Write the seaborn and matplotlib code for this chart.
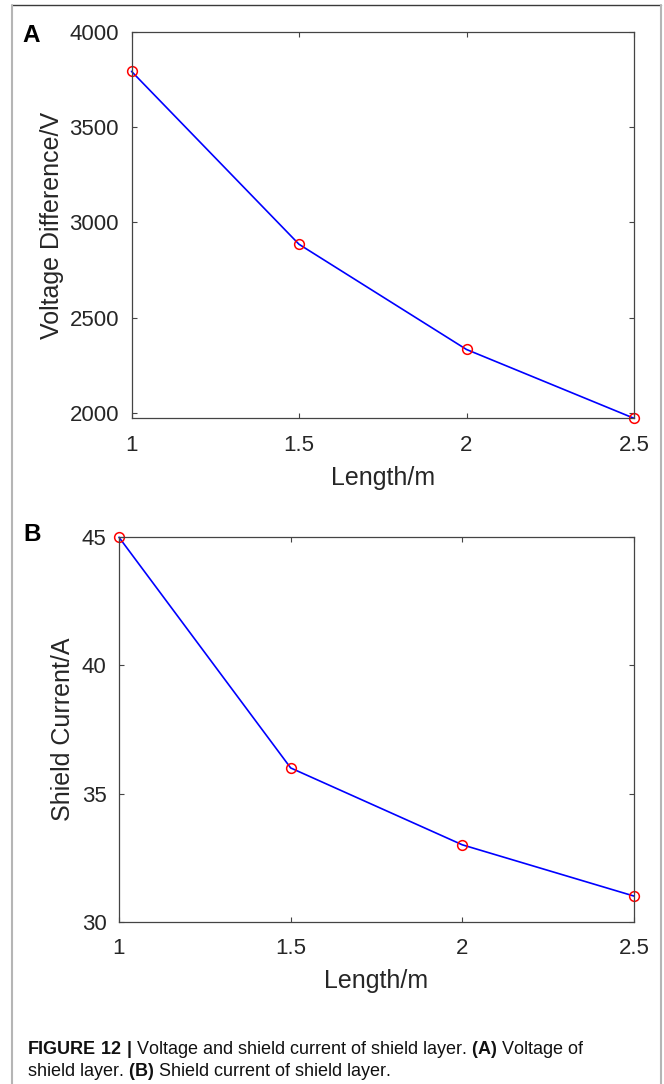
#!/usr/bin/env python3
"""
Shield layer voltage difference and shield current versus length (Figure 12 A/B)
"""

import matplotlib
matplotlib.use('Agg')
import matplotlib.pyplot as plt
from matplotlib.lines import Line2D
import pandas as pd
import seaborn as sns

# data
length_m = [1.0, 1.5, 2.0, 2.5]
voltage_diff = [3792, 2885, 2333, 1972]
shield_current = [45, 36, 33, 31]

x_ticks = [1, 1.5, 2, 2.5]
x_tick_labels = ['1', '1.5', '2', '2.5']
volt_ticks = [2000, 2500, 3000, 3500, 4000]
curr_ticks = [30, 35, 40, 45]

W, H = 664, 1084

sns.set_style('white')
plt.rcParams['font.family'] = ['Liberation Sans', 'DejaVu Sans']
plt.rcParams['mathtext.fontset'] = 'custom'
plt.rcParams['mathtext.rm'] = 'Liberation Sans'
plt.rcParams['mathtext.bf'] = 'Liberation Sans:bold'

AX_COL = '#444444'
TXT_COL = '#262626'


def px_box(left, top, right, bottom):
    """axes rectangle from pixel edges"""
    return [left / W, 1 - bottom / H, (right - left) / W, (bottom - top) / H]


def style_axes(ax, yticks, ylim):
    ax.set_xlim(1, 2.5)
    ax.set_ylim(*ylim)
    ax.set_xticks(x_ticks)
    ax.set_xticklabels(x_tick_labels)
    ax.set_yticks(yticks)
    ax.tick_params(direction='in', length=3.6, width=0.8, color=AX_COL,
                   labelsize=16, labelcolor=TXT_COL,
                   top=True, right=True, bottom=True, left=True)
    ax.tick_params(axis='x', pad=12)
    ax.tick_params(axis='y', pad=9)
    for s in ax.spines.values():
        s.set_visible(True)
        s.set_color(AX_COL)
        s.set_linewidth(0.9)
    ax.grid(False)


def draw_series(ax, y):
    df = pd.DataFrame({'len': length_m, 'val': y})
    sns.lineplot(data=df, x='len', y='val', ax=ax, color='blue', linewidth=1.2,
                 marker='o', markersize=7, markerfacecolor='none',
                 markeredgecolor='red', markeredgewidth=1.1, clip_on=False)


fig = plt.figure(figsize=(W / 100, H / 100), dpi=100)

# panel A
ax1 = fig.add_axes(px_box(131.5, 31.7, 634, 418.3))
draw_series(ax1, voltage_diff)
style_axes(ax1, volt_ticks, (1972, 4000))
ax1.set_xlabel('Length/m', fontsize=18, color=TXT_COL)
ax1.set_ylabel('Voltage Difference/V', fontsize=18, color=TXT_COL)

# panel B
ax2 = fig.add_axes(px_box(119, 537.3, 634, 921.7))
draw_series(ax2, shield_current)
style_axes(ax2, curr_ticks, (30, 45))
ax2.set_xlabel('Length/m', fontsize=18, color=TXT_COL)
ax2.set_ylabel('Shield Current/A', fontsize=18, color=TXT_COL)

# label placement (pixel centres -> axes fractions)
for ax, (l, t, r, b), ylab_x, xlab_y in [
        (ax1, (131.5, 31.7, 634, 418.3), 52, 478),
        (ax2, (119, 537.3, 634, 921.7), 63, 981)]:
    ax.yaxis.set_label_coords((ylab_x - l) / (r - l), 0.5)
    ax.yaxis.label.set_va('center')
    ax.xaxis.set_label_coords(0.5, (b - xlab_y) / (b - t))
    ax.xaxis.label.set_va('center')

# panel letters
fig.text(22 / W, 1 - 41.7 / H, 'A', fontsize=17.5, fontweight='bold',
         ha='left', va='baseline', color='black')
fig.text(23 / W, 1 - 540.7 / H, 'B', fontsize=17.5, fontweight='bold',
         ha='left', va='baseline', color='black')

# caption
fig.text(27 / W, 1 - 1054 / H,
         r'$\bf{FIGURE\ 12\ |}$ Voltage and shield current of shield layer. '
         r'$\bf{(A)}$ Voltage of',
         fontsize=13, ha='left', va='baseline', color='#111111')
fig.text(27 / W, 1 - 1076 / H,
         r'shield layer. $\bf{(B)}$ Shield current of shield layer.',
         fontsize=13, ha='left', va='baseline', color='#111111')

# outer frame
fig.add_artist(Line2D([12 / W, 661 / W], [1 - 5.3 / H, 1 - 5.3 / H],
                      transform=fig.transFigure, color='#3a3a3a', linewidth=1.0))
fig.add_artist(Line2D([12 / W, 12 / W], [1 - 5.3 / H, -0.01],
                      transform=fig.transFigure, color='#b5b5b5', linewidth=1.5))
fig.add_artist(Line2D([661 / W, 661 / W], [1 - 5.3 / H, -0.01],
                      transform=fig.transFigure, color='#b5b5b5', linewidth=1.5))

plt.savefig('out.png', dpi=100, facecolor='white')
plt.close()
